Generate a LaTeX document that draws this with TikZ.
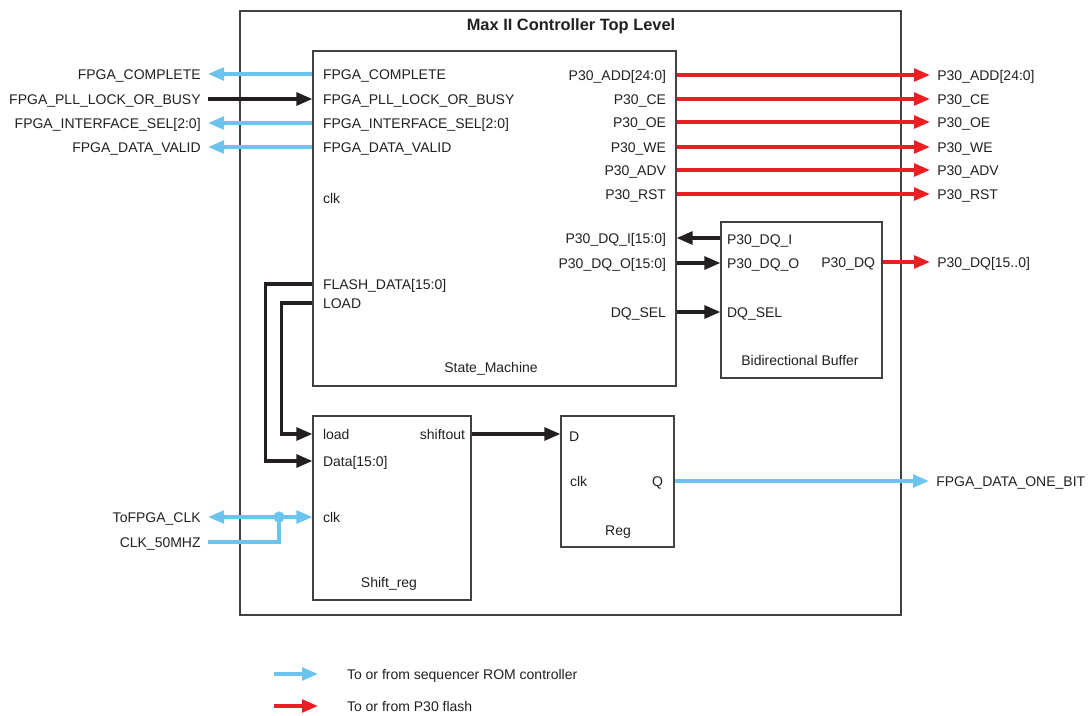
\documentclass[tikz,border=0pt]{standalone}
\usepackage{fontspec}
\setmainfont{Liberation Sans}
\usetikzlibrary{arrows.meta,fit}
\definecolor{romblue}{RGB}{108,196,238}
\definecolor{flashred}{RGB}{236,30,36}
\definecolor{sigblack}{RGB}{35,31,32}
\begin{document}
\begin{tikzpicture}[x=0.75pt,y=-0.75pt,
  lbl/.style={inner sep=0pt, outer sep=0pt, text height=7.6pt, text depth=0pt,
    font=\fontsize{10.5}{12}\selectfont, text=sigblack},
  ext/.style={lbl, outer xsep=5.5pt},
  box/.style={draw=sigblack!85, line width=0.8pt, inner sep=0pt},
  wire/.style={line width=2.6pt, -{Triangle[length=12pt,width=9.5pt]}},
  bluew/.style={wire, draw=romblue},
  redw/.style={wire, draw=flashred},
  blackw/.style={wire, draw=sigblack},
  blueline/.style={line width=2.6pt, draw=romblue}]
\useasboundingbox (0,0) rectangle (1091,715);

% boxes
\node[box, fit={(240,11) (901,615)}] (top) {};
\node[lbl, font=\fontsize{12.3}{14}\selectfont\bfseries] (title) at (571,25) {Max II Controller Top Level};
\node[box, fit={(313,51) (676,386)}] (sm) {};
\node[lbl] (smname) at (491,367) {State\_Machine};
\node[box, fit={(721,222) (882,378)}] (bb) {};
\node[lbl] (bbname) at (800,360) {Bidirectional Buffer};
\node[box, fit={(313,416) (471,600)}] (sr) {};
\node[lbl] (srname) at (389,582) {Shift\_reg};
\node[box, fit={(561,416) (674,547)}] (rg) {};
\node[lbl] (rgname) at (618,530) {Reg};

% state machine ports (left)
\node[lbl, anchor=west] (icomplete) at (323,74) {FPGA\_COMPLETE};
\node[lbl, anchor=west] (ipll) at (323,99) {FPGA\_PLL\_LOCK\_OR\_BUSY};
\node[lbl, anchor=west] (iisel) at (323,123) {FPGA\_INTERFACE\_SEL[2:0]};
\node[lbl, anchor=west] (ivalid) at (323,147) {FPGA\_DATA\_VALID};
\node[lbl, anchor=west] (iclk) at (323,198) {clk};
\node[lbl, anchor=west] (iflash) at (323,284) {FLASH\_DATA[15:0]};
\node[lbl, anchor=west] (iload) at (323,303) {LOAD};
% state machine ports (right)
\node[lbl, anchor=east] (iadd) at (666,75) {P30\_ADD[24:0]};
\node[lbl, anchor=east] (ice) at (666,99) {P30\_CE};
\node[lbl, anchor=east] (ioe) at (666,122) {P30\_OE};
\node[lbl, anchor=east] (iwe) at (666,147) {P30\_WE};
\node[lbl, anchor=east] (iadv) at (666,170) {P30\_ADV};
\node[lbl, anchor=east] (irst) at (666,194) {P30\_RST};
\node[lbl, anchor=east] (idqi) at (666,238) {P30\_DQ\_I[15:0]};
\node[lbl, anchor=east] (idqo) at (666,263) {P30\_DQ\_O[15:0]};
\node[lbl, anchor=east] (idqsel) at (666,312) {DQ\_SEL};

% buffer ports
\node[lbl, anchor=west] (bdqi) at (727,239) {P30\_DQ\_I};
\node[lbl, anchor=west] (bdqo) at (727,263) {P30\_DQ\_O};
\node[lbl, anchor=west] (bdqsel) at (727,312) {DQ\_SEL};
\node[lbl, anchor=east] (bdq) at (875,262) {P30\_DQ};

% shift reg ports
\node[lbl, anchor=west] (sload) at (323,434) {load};
\node[lbl, anchor=west] (sdata) at (323,461) {Data[15:0]};
\node[lbl, anchor=west] (sclk) at (323,517) {clk};
\node[lbl, anchor=east] (sshift) at (465,434) {shiftout};

% reg ports
\node[lbl, anchor=west] (rd) at (569,436) {D};
\node[lbl, anchor=west] (rclk) at (570,481) {clk};
\node[lbl, anchor=east] (rq) at (663,481) {Q};

% external labels left
\node[ext, anchor=east] (xcomplete) at (208,74) {FPGA\_COMPLETE};
\node[ext, anchor=east] (xpll) at (208,99) {FPGA\_PLL\_LOCK\_OR\_BUSY};
\node[ext, anchor=east] (xisel) at (208,123) {FPGA\_INTERFACE\_SEL[2:0]};
\node[ext, anchor=east] (xvalid) at (208,147) {FPGA\_DATA\_VALID};
\node[ext, anchor=east] (xtoclk) at (208,517) {ToFPGA\_CLK};
\node[ext, anchor=east] (x50) at (208,542) {CLK\_50MHZ};

% external labels right
\node[ext, anchor=west] (xadd) at (930,75) {P30\_ADD[24:0]};
\node[ext, anchor=west] (xce) at (930,99) {P30\_CE};
\node[ext, anchor=west] (xoe) at (930,122) {P30\_OE};
\node[ext, anchor=west] (xwe) at (930,147) {P30\_WE};
\node[ext, anchor=west] (xadv) at (930,170) {P30\_ADV};
\node[ext, anchor=west] (xrst) at (930,194) {P30\_RST};
\node[ext, anchor=west] (xdq) at (930,262) {P30\_DQ[15..0]};
\node[ext, anchor=west] (xonebit) at (929,481) {FPGA\_DATA\_ONE\_BIT};

% left connectors
\draw[bluew] (sm.west |- icomplete) -- (xcomplete.east);
\draw[blackw] (xpll.east) -- (sm.west |- ipll);
\draw[bluew] (sm.west |- iisel) -- (xisel.east);
\draw[bluew] (sm.west |- ivalid) -- (xvalid.east);

% right connectors
\draw[redw] (sm.east |- iadd) -- (xadd.west);
\draw[redw] (sm.east |- ice) -- (xce.west);
\draw[redw] (sm.east |- ioe) -- (xoe.west);
\draw[redw] (sm.east |- iwe) -- (xwe.west);
\draw[redw] (sm.east |- iadv) -- (xadv.west);
\draw[redw] (sm.east |- irst) -- (xrst.west);

% buffer connectors
\draw[blackw] (bb.west |- idqi) -- (sm.east |- idqi);
\draw[blackw] (sm.east |- bdqo) -- (bb.west |- bdqo);
\draw[blackw] (sm.east |- bdqsel) -- (bb.west |- bdqsel);
\draw[redw] (bb.east |- bdq) -- (xdq.west);

% shift reg connectors
\draw[blackw] (sm.west |- iflash) -- ++(-47,0) |- (sr.west |- sdata);
\draw[blackw] (sm.west |- iload) -- ++(-31,0) |- (sr.west |- sload);
\draw[blackw] (sr.east |- sshift) -- (rg.west |- sshift);
\draw[bluew] (rg.east |- rq) -- (xonebit.west);

% clock
\node[circle, fill=romblue, inner sep=0pt, minimum size=8.5pt] (cdot) at (279,517) {};
\draw[bluew] (cdot.center) -- (xtoclk.east);
\draw[bluew] (cdot.center) -- (sr.west |- sclk);
\draw[blueline] (x50.east) -| (cdot.center);

% legend
\coordinate (l1a) at (274,674);
\coordinate (l1b) at (318,674);
\coordinate (l2a) at (274,706);
\coordinate (l2b) at (318,706);
\node[lbl, anchor=west] (leg1) at (347,674) {To or from sequencer ROM controller};
\node[lbl, anchor=west] (leg2) at (347,706) {To or from P30 flash};
\draw[bluew] (l1a) -- (l1b);
\draw[redw] (l2a) -- (l2b);
\end{tikzpicture}
\end{document}
